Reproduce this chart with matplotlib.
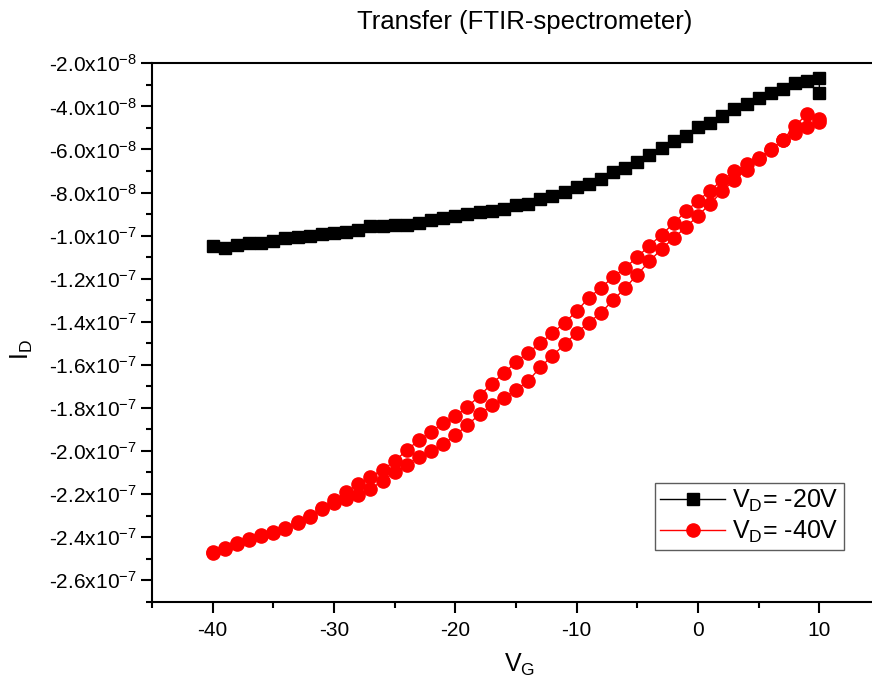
import numpy as np
import matplotlib
matplotlib.use('Agg')
import matplotlib.pyplot as plt
from matplotlib.ticker import MultipleLocator, FuncFormatter

plt.rcParams['font.family'] = ['Liberation Sans', 'DejaVu Sans']
plt.rcParams['mathtext.fontset'] = 'custom'
plt.rcParams['mathtext.rm'] = 'Liberation Sans'
plt.rcParams['mathtext.it'] = 'Liberation Sans'
plt.rcParams['mathtext.default'] = 'regular'
plt.rcParams['axes.unicode_minus'] = False

# gate voltage sweep (V)
vg = list(range(-40, 11))

# drain current, units of 1e-8 A
# VD = -20 V, sweep -40 -> 10, last point repeated at 10 V
id_20 = [-10.50, -10.57, -10.45, -10.34, -10.34, -10.27, -10.11, -10.06, -10.03, -9.93,
         -9.88, -9.83, -9.76, -9.57, -9.54, -9.52, -9.49, -9.40, -9.26, -9.18,
         -9.11, -9.00, -8.92, -8.84, -8.77, -8.57, -8.52, -8.30, -8.18, -7.97,
         -7.75, -7.61, -7.35, -7.07, -6.85, -6.56, -6.25, -5.95, -5.63, -5.38,
         -4.97, -4.75, -4.43, -4.13, -3.89, -3.62, -3.39, -3.20, -2.93, -2.81,
         -2.67]
id_20_end = -3.39

# VD = -40 V, two branches of the sweep
id_40_up = [-24.71, -24.51, -24.29, -24.09, -23.90, -23.78, -23.59, -23.32, -23.01, -22.67,
            -22.28, -21.90, -21.54, -21.20, -20.87, -20.48, -19.96, -19.50, -19.10, -18.71,
            -18.40, -17.94, -17.45, -16.87, -16.40, -15.86, -15.44, -15.00, -14.53, -14.05,
            -13.51, -12.89, -12.43, -11.92, -11.50, -10.99, -10.47, -9.96, -9.43, -8.88,
            -8.38, -7.92, -7.41, -7.02, -6.67, -6.40, -5.99, -5.55, -4.91, -4.35,
            -4.60]
id_40_dn = [-24.75, -24.55, -24.33, -24.12, -23.93, -23.80, -23.62, -23.35, -23.05, -22.70,
            -22.42, -22.24, -22.05, -21.77, -21.39, -20.98, -20.63, -20.28, -20.00, -19.69,
            -19.27, -18.79, -18.30, -17.88, -17.52, -17.17, -16.75, -16.12, -15.58, -15.05,
            -14.51, -14.05, -13.58, -13.00, -12.43, -11.81, -11.19, -10.62, -10.11, -9.61,
            -9.08, -8.52, -7.95, -7.41, -6.94, -6.45, -6.02, -5.58, -5.24, -4.97,
            -4.73]

x_black = vg + [10]
y_black = np.array(id_20 + [id_20_end]) * 1e-8
x_red = vg + vg[::-1]
y_red = np.array(id_40_up + id_40_dn[::-1]) * 1e-8


def sci_label(v, pos):
    if v == 0:
        return '0'
    e = int(np.floor(np.log10(abs(v)) + 1e-9))
    m = v / 10.0 ** e
    return '%.1fx10$^{%d}$' % (m, e)


fig = plt.figure(figsize=(8.72, 6.93), dpi=100)
ax = fig.add_axes([152 / 872, 91.3 / 693, 728 / 872, 538.4 / 693])

ax.plot(x_black, y_black, color='black', lw=1, marker='s', ms=8.5,
        mec='black', mfc='black', label='V$_D$= -20V')
ax.plot(x_red, y_red, color='red', lw=1, marker='o', ms=9.5,
        mec='red', mfc='red', label='V$_D$= -40V')

ax.set_xlim(-45, 15)
ax.set_ylim(-2.7e-7, -2.0e-8)
ax.xaxis.set_major_locator(MultipleLocator(10))
ax.xaxis.set_minor_locator(MultipleLocator(5))
ax.yaxis.set_major_locator(MultipleLocator(2e-8))
ax.yaxis.set_minor_locator(MultipleLocator(1e-8))
ax.yaxis.set_major_formatter(FuncFormatter(sci_label))

for s in ax.spines.values():
    s.set_linewidth(1.5)
ax.tick_params(which='both', direction='out', width=1.5, labelsize=15)
ax.tick_params(which='major', length=8)
ax.tick_params(which='minor', length=4.5)
ax.tick_params(axis='x', pad=6)
ax.tick_params(axis='y', pad=3)

fig.text(525 / 872, 1 - 22 / 693, 'Transfer (FTIR-spectrometer)', ha='center', va='center', fontsize=18.5)
fig.text(520 / 872, 1 - 665 / 693, 'V$_G$', ha='center', va='center', fontsize=18)
fig.text(22 / 872, 1 - 350 / 693, 'I$_D$', ha='center', va='center', fontsize=18, rotation=90)

leg = ax.legend(loc='upper left', bbox_to_anchor=(655 / 872, 1 - 483 / 693),
                bbox_transform=fig.transFigure, fontsize=18, frameon=True, fancybox=False,
                handlelength=2.6, handletextpad=0.3, borderpad=0.2, labelspacing=0.2,
                borderaxespad=0)
leg.get_frame().set_edgecolor('#333333')
leg.get_frame().set_linewidth(1)

fig.savefig('out.png', dpi=100)
